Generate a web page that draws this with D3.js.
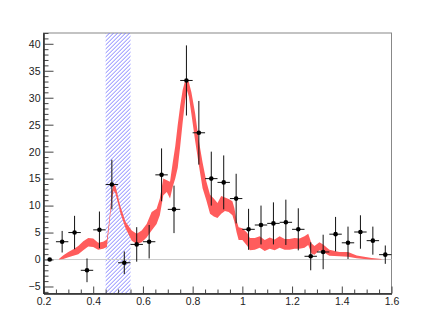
<!DOCTYPE html>
<html>
<head>
<meta charset="utf-8">
<script src="https://cdn.jsdelivr.net/npm/d3@7"></script>
<style>
  body { margin: 0; background: #fff; }
  svg { display: block; }
  .axis text { font-family: "Liberation Sans", Arial, sans-serif; font-size: 10.5px; fill: #222; }
</style>
</head>
<body>
<div id="container"></div>
<script>
// measured points: bin centre, value, error
const pointX = [0.225, 0.275, 0.325, 0.375, 0.425, 0.475, 0.525, 0.575, 0.625, 0.675, 0.725, 0.775, 0.825, 0.875,
  0.925, 0.975, 1.025, 1.075, 1.125, 1.175, 1.225, 1.275, 1.325, 1.375, 1.425, 1.475, 1.525, 1.575];
const pointY = [0, 3.3, 5.0, -2.0, 5.5, 13.9, -0.6, 2.8, 3.3, 15.7, 9.3, 33.2, 23.5, 15.0,
  14.3, 11.3, 5.6, 6.4, 6.7, 6.9, 5.6, 0.6, 1.4, 4.7, 3.1, 5.1, 3.5, 0.9];
const pointErr = [0, 2.0, 3.1, 2.2, 3.4, 4.6, 2.1, 3.2, 3.1, 4.9, 4.4, 6.5, 5.9, 5.0,
  5.0, 4.6, 3.8, 3.6, 3.9, 4.2, 3.9, 2.6, 3.2, 3.2, 3.0, 3.1, 2.6, 1.7];
const binHalf = 0.025;

// red band: x, lower, upper
const bandX = [0.262, 0.28, 0.30, 0.32, 0.34, 0.36, 0.38, 0.40, 0.42, 0.44, 0.455, 0.465, 0.475, 0.482, 0.49,
  0.51, 0.53, 0.555, 0.575, 0.595, 0.615, 0.635, 0.655, 0.668, 0.682, 0.696, 0.709, 0.72, 0.73, 0.74, 0.75,
  0.76, 0.77, 0.777, 0.785, 0.795, 0.81, 0.825, 0.84, 0.855, 0.87, 0.885, 0.90, 0.915, 0.93, 0.945, 0.96,
  0.968, 0.977, 0.985, 1.00, 1.02, 1.03, 1.05, 1.07, 1.09, 1.11, 1.13, 1.15, 1.17, 1.19, 1.21, 1.23, 1.25,
  1.265, 1.278, 1.29, 1.31, 1.325, 1.35, 1.39, 1.425, 1.46, 1.49, 1.52, 1.56];
const bandLo = [0, 0.1, 0.4, 0.7, 1.0, 1.7, 2.4, 2.3, 1.8, 2.0, 2.3, 6.5, 11.0, 12.8, 12.2,
  8.5, 5.8, 3.5, 2.9, 3.2, 4.1, 5.4, 6.6, 8.2, 11.9, 12.5, 11.3, 13.5, 15.0, 17.0, 21.0,
  25.5, 29.5, 31.4, 30.2, 27.0, 22.0, 17.5, 13.2, 11.0, 8.5, 8.0, 7.7, 8.5, 9.0, 8.8, 8.2,
  7.0, 5.0, 3.6, 3.6, 2.5, 1.7, 1.8, 2.2, 1.6, 2.0, 1.7, 2.2, 1.8, 1.8, 2.0, 2.0, 2.2,
  2.7, 1.1, 0.9, 1.7, 1.4, 0.7, 0.6, 0.5, 0.25, 0.1, 0, 0];
const bandHi = [0.1, 0.8, 1.4, 1.9, 2.5, 3.4, 4.0, 3.9, 3.1, 3.3, 3.7, 7.5, 12.5, 14.0, 13.6,
  9.8, 7.0, 5.4, 4.8, 5.4, 6.6, 8.8, 9.4, 11.3, 15.0, 14.7, 14.4, 18.0, 21.0, 25.0, 28.5,
  31.5, 33.2, 33.4, 32.8, 31.0, 27.1, 22.0, 18.0, 14.5, 12.0, 11.3, 10.5, 11.8, 11.5, 11.2, 10.8,
  9.5, 7.2, 6.0, 5.8, 4.9, 4.0, 4.0, 4.3, 3.6, 4.1, 3.7, 4.3, 3.8, 3.8, 4.0, 3.9, 4.3,
  4.8, 3.0, 2.5, 3.2, 2.8, 1.8, 1.4, 1.4, 0.75, 0.5, 0.3, 0.1];

// hatched window
const windowRange = [0.45, 0.55];

const xTicks = [0.2, 0.4, 0.6, 0.8, 1.0, 1.2, 1.4, 1.6];
const yTicks = [-5, 0, 5, 10, 15, 20, 25, 30, 35, 40];

const width = 436, height = 327;
const plot = { left: 43.5, right: 391.5, top: 33, bottom: 293.5 };

const x = d3.scaleLinear().domain([0.2, 1.6]).range([plot.left, plot.right]);
const y = d3.scaleLinear().domain([-6.3, 42]).range([plot.bottom, plot.top]);

const svg = d3.select('#container')
  .append('svg')
    .attr('width', width)
    .attr('height', height);

svg.append('rect').attr('width', width).attr('height', height).attr('fill', '#fff');

const defs = svg.append('defs');

// window clip for hatch lines
const x0 = x(windowRange[0]), x1 = x(windowRange[1]);
defs.append('clipPath').attr('id', 'winClip')
  .append('rect')
    .attr('x', x0).attr('y', plot.top)
    .attr('width', x1 - x0).attr('height', plot.bottom - plot.top);

// frame
svg.append('rect')
  .attr('x', plot.left).attr('y', plot.top)
  .attr('width', plot.right - plot.left).attr('height', plot.bottom - plot.top)
  .attr('fill', 'none').attr('stroke', '#888').attr('stroke-width', 1);

// hatched window: diagonal lines every 4px
const hatchOffsets = d3.range(x0 - (plot.bottom - plot.top), x1 + 4, 4);
svg.append('g')
  .attr('clip-path', 'url(#winClip)')
  .selectAll('line')
  .data(hatchOffsets)
  .enter()
  .append('line')
    .attr('x1', d => d)
    .attr('y1', plot.bottom)
    .attr('x2', d => d + (plot.bottom - plot.top))
    .attr('y2', plot.top)
    .attr('stroke', '#7474ff')
    .attr('stroke-width', 0.9);

// zero line
svg.append('line')
  .attr('x1', plot.left).attr('x2', plot.right)
  .attr('y1', y(0)).attr('y2', y(0))
  .attr('stroke', '#ccc').attr('stroke-width', 1);

// band
const area = d3.area()
  .x((d, i) => x(bandX[i]))
  .y0((d, i) => y(bandLo[i]))
  .y1((d, i) => y(bandHi[i]));
svg.append('path')
  .datum(bandX)
  .attr('d', area)
  .attr('fill', '#ff5c5c');

// axes
const yMinor = d3.range(-6, 43, 1).filter(v => v % 5 !== 0);
const xMinor = d3.range(0.25, 1.6, 0.05).filter(v => Math.abs(v * 5 - Math.round(v * 5)) > 1e-6);

svg.append('g')
  .attr('class', 'axis')
  .attr('transform', `translate(0,${plot.bottom})`)
  .call(d3.axisBottom(x).tickValues(xMinor).tickSize(-4).tickSizeOuter(0).tickFormat(''));
svg.append('g')
  .attr('class', 'axis')
  .attr('transform', `translate(0,${plot.bottom})`)
  .call(d3.axisBottom(x).tickValues(xTicks).tickSize(-7).tickSizeOuter(0).tickPadding(4)
    .tickFormat(d => d === 1 ? '1' : d3.format('.1f')(d)));
svg.append('g')
  .attr('class', 'axis')
  .attr('transform', `translate(${plot.left},0)`)
  .call(d3.axisLeft(y).tickValues(yMinor).tickSize(-5).tickSizeOuter(0).tickFormat(''));
svg.append('g')
  .attr('class', 'axis')
  .attr('transform', `translate(${plot.left},0)`)
  .call(d3.axisLeft(y).tickValues(yTicks).tickSize(-10).tickSizeOuter(0).tickPadding(3));
svg.selectAll('.axis .domain').attr('stroke', '#222');
svg.selectAll('.axis .tick line').attr('stroke', '#444');

// points
const pts = svg.append('g').selectAll('g')
  .data(pointX)
  .enter()
  .append('g');
pts.filter((d, i) => pointErr[i] > 0)
  .append('line')
    .attr('x1', (d) => x(d - binHalf))
    .attr('x2', (d) => x(d + binHalf))
    .attr('y1', (d) => y(pointY[pointX.indexOf(d)]))
    .attr('y2', (d) => y(pointY[pointX.indexOf(d)]))
    .attr('stroke', '#111');
pts.filter((d, i) => pointErr[i] > 0)
  .append('line')
    .attr('x1', (d) => x(d))
    .attr('x2', (d) => x(d))
    .attr('y1', (d) => { const i = pointX.indexOf(d); return y(pointY[i] + pointErr[i]); })
    .attr('y2', (d) => { const i = pointX.indexOf(d); return y(pointY[i] - pointErr[i]); })
    .attr('stroke', '#111');
pts.append('circle')
  .attr('cx', (d) => x(d))
  .attr('cy', (d, i) => y(pointY[i]))
  .attr('r', 2.3)
  .attr('fill', '#000');
</script>
</body>
</html>
